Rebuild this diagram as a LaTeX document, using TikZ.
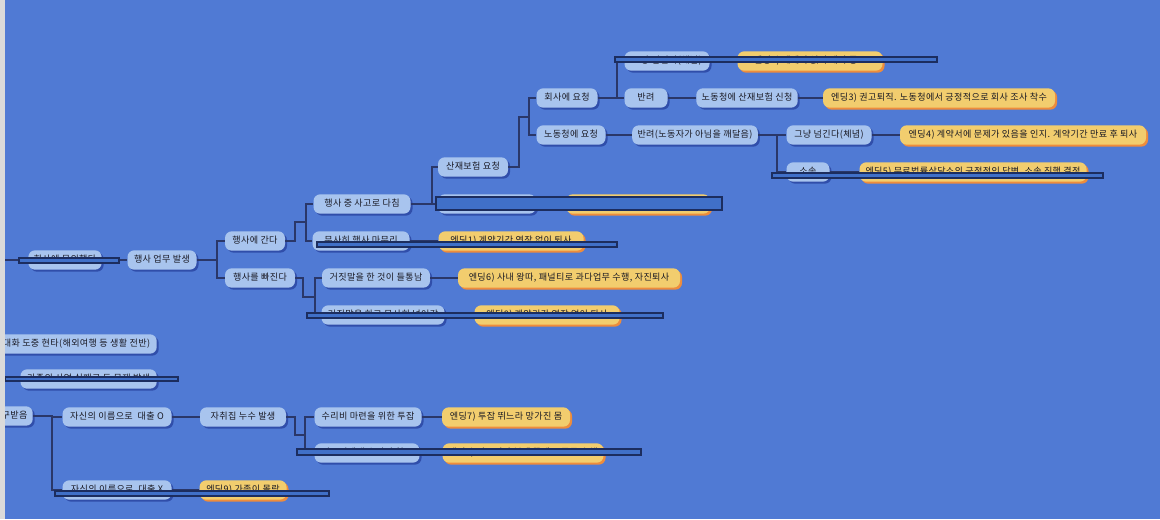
\documentclass[tikz,border=0pt]{standalone}
\usepackage{fontspec}
\newfontfamily\kfont[LetterSpace=4]{Noto Sans CJK KR}
\usetikzlibrary{shadows}
\definecolor{bg}{RGB}{80,122,212}
\definecolor{nbf}{RGB}{168,196,238}
\definecolor{nbs}{RGB}{48,78,170}
\definecolor{nyf}{RGB}{242,205,110}
\definecolor{nys}{RGB}{238,140,60}
\definecolor{ln}{RGB}{42,55,105}
\definecolor{ovf}{RGB}{64,112,200}
\definecolor{ovd}{RGB}{28,45,95}
\definecolor{txt}{RGB}{25,25,35}
\definecolor{edgegrey}{RGB}{218,218,218}
\tikzset{
  base/.style={rounded corners=5pt, minimum height=14.5pt, inner xsep=4pt, inner ysep=0pt,
    text=txt, font=\kfont\fontsize{6.8}{8}\selectfont, text height=5.6pt, text depth=1.4pt},
  nb/.style={base, fill=nbf, general shadow={fill=nbs, shadow xshift=1.5pt, shadow yshift=-1.5pt}},
  ny/.style={base, fill=nyf, general shadow={fill=nys, shadow xshift=1.5pt, shadow yshift=-1.5pt}},
  w/.style={minimum width=#1*0.75pt},
  con/.style={draw=ln, line width=1.1pt},
  ov/.style={fill=ovf, draw=ovd, line width=0.8pt},
}
\begin{document}
\begin{tikzpicture}[x=0.75pt,y=-0.75pt]
\useasboundingbox (0,0) rectangle (1160,519);
\fill[bg] (0,0) rectangle (1160,519);
\clip (0,0) rectangle (1160,519);

% ---------- upper tree ----------
\coordinate (L0) at (0,260);
\node[nb,w=70]  (r1)  at (65,260)  {회사에 문의했다};
\node[nb,w=69]  (n2)  at (162,260) {행사 업무 발생};
\node[nb,w=60]  (n3)  at (255,241) {행사에 간다};
\node[nb,w=70]  (n4)  at (260,278) {행사를 빠진다};
\node[nb,w=97]  (n5)  at (362,204) {행사 중 사고로 다침};
\node[nb,w=97]  (n8)  at (361,241) {무사히 행사 마무리};
\node[ny,w=145] (e1)  at (511,241) {엔딩1) 계약기간 연장 없이 퇴사};
\node[nb,w=70]  (n6)  at (473,167) {산재보험 요청};
\node[nb,w=98]  (n7)  at (487,204) {산재보험 요청 안 함};
\node[ny,w=144] (e0)  at (638,204) {엔딩) 치료비 자비 부담};
\node[nb,w=61]  (n9)  at (567,98)  {회사에 요청};
\node[nb,w=69]  (n10) at (571,135) {노동청에 요청};
\node[nb,w=85]  (n11) at (667,61)  {그냥 넘긴다(체념)};
\node[ny,w=145] (e2)  at (810,61)  {엔딩2) 재계약 없이 계약 종료};
\node[nb,w=43]  (n12) at (646,98)  {반려};
\node[nb,w=99]  (n13) at (747,98)  {노동청에 산재보험 신청};
\node[ny,w=232] (e3)  at (939,98)  {엔딩3) 권고퇴직. 노동청에서 긍정적으로 회사 조사 착수};
\node[nb,w=125] (n14) at (695,135) {반려(노동자가 아님을 깨달음)};
\node[nb,w=85]  (n15) at (829,135) {그냥 넘긴다(체념)};
\node[ny,w=246] (e4)  at (1023,135) {엔딩4) 계약서에 문제가 있음을 인지. 계약기간 만료 후 퇴사};
\node[nb,w=43]  (n16) at (808,172) {소송};
\node[ny,w=227] (e5)  at (973,172) {엔딩5) 무료법률상담소의 긍정적인 답변, 소송 진행 결정};
\node[nb,w=108] (n17) at (376,278) {거짓말을 한 것이 들통남};
\node[ny,w=222] (e6)  at (569,278) {엔딩6) 사내 왕따, 패널티로 과다업무 수행, 자진퇴사};
\node[nb,w=123] (n18) at (383,315) {거짓말을 하고 무사히 넘어감};
\node[ny,w=145] (e8)  at (547,315) {엔딩8) 계약기간 연장 없이 퇴사};

% ---------- lower tree ----------
\node[nb,anchor=east,minimum width=10pt,inner xsep=5pt] (m1) at (157,344) {대화 도중 현타(해외여행 등 생활 전반)};
\node[nb,anchor=east,minimum width=10pt,inner xsep=5pt] (m2) at (157,379) {가족의 사업 실패로 돈 문제 발생};
\node[nb,anchor=east,minimum width=10pt,inner xsep=4pt] (m3) at (33,416) {가족에게 대출 요구받음};
\node[nb,w=109] (p1)  at (117,417) {자신의 이름으로 ~대출 O};
\node[nb,w=86]  (p2)  at (243,417) {자취집 누수 발생};
\node[nb,w=107] (p3)  at (368,417) {수리비 마련을 위한 투잡};
\node[ny,w=128] (e7)  at (506,417) {엔딩7) 투잡 뛰느라 망가진 몸};
\node[nb,w=105] (p4)  at (367,453) {집주인에게 수리비 청구};
\node[ny,w=161] (e9)  at (523,453) {엔딩8) 집주인과 분쟁 끝에 보증금 손해};
\node[nb,w=109] (p5)  at (117,490) {자신의 이름으로 ~대출 X};
\node[ny,w=87]  (e10) at (243,490) {엔딩9) 가족이 몰락};

% ---------- connectors ----------
\draw[con] (L0) -- (r1.west);
\draw[con] (r1.east) -- (n2.west);
\draw[con] (n2.east) -| (217,241) -- (n3.west);
\draw[con] (n2.east) -| (217,278) -- (n4.west);
\draw[con] (n3.east) -| (295,222) -- (306,222) |- (n5.west);
\draw[con] (n3.east) -| (295,222) -- (306,222) |- (n8.west);
\draw[con] (n4.east) -| (303,297) -- (315,297) |- (n17.west);
\draw[con] (n4.east) -| (303,297) -- (315,297) |- (n18.west);
\draw[con] (n5.east) -| (432,167) -- (n6.west);
\draw[con] (n5.east) -| (432,204) -- (n7.west);
\draw[con] (n6.east) -| (519,117) -- (529,117) |- (n9.west);
\draw[con] (n6.east) -| (519,117) -- (529,117) |- (n10.west);
\draw[con] (n9.east) -| (617,61) -- (n11.west);
\draw[con] (n9.east) -| (617,98) -- (n12.west);
\draw[con] (n11.east) -- (e2.west);
\draw[con] (n12.east) -- (n13.west);
\draw[con] (n13.east) -- (e3.west);
\draw[con] (n10.east) -- (n14.west);
\draw[con] (n14.east) -| (777,135) -- (n15.west);
\draw[con] (n14.east) -| (777,172) -- (n16.west);
\draw[con] (n15.east) -- (e4.west);
\draw[con] (n16.east) -- (e5.west);
\draw[con] (n7.east) -- (e0.west);
\draw[con] (n8.east) -- (e1.west);
\draw[con] (n17.east) -- (e6.west);
\draw[con] (n18.east) -- (e8.west);
\draw[con] (m3.east) -| (52,417) -- (p1.west);
\draw[con] (m3.east) -| (52,490) -- (p5.west);
\draw[con] (p1.east) -- (p2.west);
\draw[con] (p2.east) -| (295,435) -- (305,435) |- (p3.west);
\draw[con] (p2.east) -| (295,435) -- (305,435) |- (p4.west);
\draw[con] (p3.east) -- (e7.west);
\draw[con] (p4.east) -- (e9.west);
\draw[con] (p5.east) -- (e10.west);

% ---------- overlay bars ----------
\draw[ov] (615,57) rectangle (937,62);
\draw[ov] (772,173) rectangle (1103,178);
\draw[ov] (436,197) rectangle (722,210);
\draw[ov] (317,242) rectangle (617,247);
\draw[ov] (307,313) rectangle (663,318);
\draw[ov] (5,377) rectangle (178,381);
\draw[ov] (19,258) rectangle (119,263);
\draw[ov] (297,449) rectangle (641,455);
\draw[ov] (55,491) rectangle (329,496);

% ---------- left grey edge ----------
\fill[edgegrey] (0,0) rectangle (5,519);
\end{tikzpicture}
\end{document}
